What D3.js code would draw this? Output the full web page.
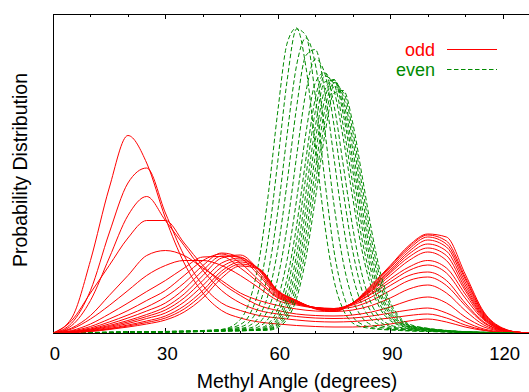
<!DOCTYPE html>
<html><head><meta charset="utf-8">
<script src="https://cdn.jsdelivr.net/npm/d3@7"></script>
<style>html,body{margin:0;padding:0;background:#fff;overflow:hidden}</style>
</head><body><svg id="c" width="529" height="392"></svg>
<script>
// Angle grids (degrees)
const oddAngles = [0,5,10,15,20,25,30,35,40,45,50,55,60,65,70,75,80,85,90,95,100,105,110,115,120,125,130];
const evenAngles = [0,10,20,30,40,45,50,52.5,55,57.5,60,62.5,65,67.5,70,72.5,75,77.5,80,82.5,85,87.5,90,92.5,95,100,105,110,120,130];

// "odd" curves (probability, x10^-3 per degree)
const odd01 = [0,3,14.5,29,39.5,34,23,14,8,4.5,3,2.2,1.8,1.5,1.3,1.2,1.2,1.4,1.8,2.4,2.8,2.2,1.2,0.5,0.1,0,0];
const odd02 = [0,2,8.5,20,30,33,24,15.5,9.5,6,4.5,3.5,3,2.6,2.3,2.2,2.3,2.6,3,3.5,3.8,3,1.6,0.6,0.1,0,0];
const odd03 = [0,1.5,6.5,15,23.5,27.3,22.5,17.5,12.5,8.5,6,4.5,3.8,3.3,3,2.9,3,3.4,4,4.6,5,4,2.2,0.8,0.2,0,0];
const odd04 = [0,2.5,8,13.5,19,22.5,22.5,18,13.5,10,7.5,5.5,4.5,3.8,3.5,3.4,3.6,4.2,5.2,6.5,7.2,6,3.2,1.2,0.3,0,0];
const odd05 = [0,1,3.5,7.5,11.5,15.5,16.5,15.5,13,10.5,8,6.5,5.5,4.8,4.4,4.3,4.6,5.5,7,8.8,9.6,8,4.5,1.6,0.4,0.05,0];
const odd06 = [0,0.8,2.8,5.5,8.5,11.5,13.5,14.5,14.5,13.5,11.5,9,6.5,5.6,5,4.8,5.2,6.5,8.5,10.5,11.2,9.5,5.5,2,0.5,0.1,0];
const odd07 = [0,0.5,1.8,3.8,6,8.3,10.5,13,15.2,15.3,13,10,7,5.8,5.1,4.9,5.6,7.2,9.5,11.5,12.2,10.5,6,2.2,0.5,0.1,0];
const odd08 = [0,0.4,1.3,2.8,4.5,6.5,8.5,11.5,14.5,15.8,14,10.5,7.2,5.9,5.1,4.9,5.8,7.8,10.2,12.5,13.6,12,7,2.6,0.6,0.1,0];
const odd09 = [0,0.3,1,2.2,3.6,5.2,7.2,10,13.5,16,15,11.5,7.4,6,5,4.8,5.8,8,10.8,13.2,14.5,13,7.8,2.8,0.6,0.1,0];
const odd10 = [0,0.25,0.8,1.8,3,4.4,6,8.8,12.5,15.4,15.2,12,7.6,6.1,5,4.8,6,8.4,11.5,14.5,16.2,14.5,8.5,3,0.7,0.1,0];
const odd11 = [0,0.2,0.7,1.5,2.5,3.7,5.2,7.8,11.5,15,15.6,12.5,7.8,6.2,5.1,4.8,6,8.6,12,15.2,17,15.5,9,3.2,0.7,0.1,0];
const odd12 = [0,0.2,0.6,1.3,2.2,3.3,4.6,7,10.5,14,15,12.6,8,6.3,5,4.7,6,8.8,12.3,15.8,17.8,16.4,9.6,3.4,0.8,0.1,0];
const odd13 = [0,0.15,0.5,1.1,1.9,2.9,4,6.2,9.5,13.2,14.6,12.8,8.2,6.4,5,4.6,6,9,12.6,16.3,18.6,17.2,10.2,3.6,0.8,0.1,0];
const odd14 = [0,0.12,0.4,0.9,1.6,2.4,3.4,5.4,8.5,12.4,14.2,12.8,8.3,6.4,4.9,4.5,6,9.2,13,16.8,19.2,17.8,10.8,3.8,0.9,0.1,0];
const odd15 = [0,0.1,0.35,0.8,1.4,2.1,3,4.8,7.8,11.8,13.8,12.8,8.4,6.5,4.9,4.4,6,9.4,13.3,17.2,19.6,18.4,11.2,4,0.9,0.1,0];
const odd16 = [0,0.1,0.3,0.7,1.2,1.8,2.6,4.2,7,11,13.4,12.8,8.5,6.5,4.8,4.3,6,9.6,13.5,17.5,19.8,19.2,11.8,4.2,1,0.1,0];

// "even" curves
const even01 = [0,0.1,0.2,0.3,0.5,0.7,2.7,6.5,14.5,28,44.4,58,61,53.2,37.6,21.8,10.5,4.6,2,1.2,0.9,0.7,0.6,0.5,0.4,0.3,0.2,0.1,0.05,0];
const even02 = [0,0.1,0.2,0.3,0.5,0.7,1.7,3.7,8.9,19.2,34.4,50.6,60.8,59.5,47.4,30.8,16.4,7.7,3.3,1.7,1.1,0.8,0.7,0.6,0.5,0.35,0.2,0.1,0.05,0];
const even03 = [0,0.1,0.2,0.3,0.45,0.65,1.2,2.3,5.5,12.4,24.4,39.8,53.5,59,53.8,40.7,25.6,14,6.7,3.1,1.6,1.1,0.85,0.7,0.55,0.4,0.25,0.12,0.05,0];
const even04 = [0,0.08,0.18,0.28,0.42,0.6,0.9,1.5,3.3,7.9,16.8,30.2,45.1,55.5,56.7,48.5,34.9,21.5,11.5,5.6,2.7,1.5,1.0,0.8,0.65,0.45,0.28,0.14,0.05,0];
const even05 = [0,0.08,0.17,0.27,0.4,0.55,0.8,1.0,2.0,4.9,11,21.4,35.3,48.2,54.8,52,41.5,28.1,16.4,8.4,4.1,2.1,1.3,0.95,0.75,0.5,0.3,0.15,0.05,0];
const even06 = [0,0.07,0.16,0.26,0.38,0.5,0.65,0.75,1.3,2.9,6.9,14.7,26.6,40,50,52.1,45.5,33.4,21.1,11.6,5.8,2.9,1.6,1.15,0.85,0.55,0.33,0.16,0.05,0];
const even07 = [0,0.06,0.14,0.24,0.36,0.48,0.55,0.6,0.9,1.9,4.8,11,21.4,34.8,46.9,52,48.5,38.8,27,16.4,9,4.6,2.5,1.5,1.0,0.6,0.35,0.18,0.05,0];
const even08 = [0,0.06,0.14,0.23,0.35,0.46,0.55,0.6,0.75,1.55,3.8,9.1,18.4,31.4,44.3,51.4,49.8,41.3,29.8,18.6,10.5,5.4,2.9,1.7,1.1,0.65,0.38,0.2,0.06,0];
const even09 = [0,0.05,0.13,0.22,0.34,0.45,0.52,0.58,0.65,1.2,3.0,7.4,15.6,28,41.2,50.2,50.6,43.6,32.5,21,12.1,6.3,3.3,1.9,1.2,0.7,0.4,0.22,0.06,0];
const even10 = [0,0.05,0.13,0.22,0.33,0.44,0.5,0.56,0.62,1.0,2.5,6.2,13.5,25,38.4,48.5,50.7,45,34.6,23.1,13.6,7.2,3.7,2.1,1.3,0.75,0.42,0.23,0.06,0];
const even11 = [0,0.05,0.12,0.21,0.32,0.43,0.48,0.54,0.6,0.85,2.0,5.1,11.5,22.3,35.5,46.7,50.6,46.3,36.7,25.1,15.2,8.1,4.2,2.3,1.4,0.8,0.45,0.24,0.06,0];
const even12 = [0,0.04,0.12,0.2,0.31,0.42,0.46,0.52,0.58,0.75,1.7,4.2,9.8,19.7,32.6,44.5,50.1,47.3,38.6,27.3,16.9,9.3,4.8,2.6,1.5,0.85,0.48,0.25,0.07,0];
const even13 = [0,0.04,0.11,0.2,0.3,0.41,0.45,0.5,0.56,0.65,1.4,3.5,8.3,17.2,29.7,42.1,49.3,48.1,40.4,29.4,18.7,10.5,5.5,2.9,1.6,0.9,0.5,0.26,0.07,0];
const even14 = [0,0.04,0.11,0.19,0.29,0.4,0.44,0.48,0.52,0.55,1.1,2.8,6.9,15,26.8,39.5,48,48.5,42,31.4,20.6,11.7,6.2,3.2,1.8,0.95,0.52,0.27,0.07,0];

const xTickValues = [0,10,20,30,40,50,60,70,80,90,100,110,120,130];
const xTickLabels = ["0","30","60","90","120"];
const legendLabels = ["odd","even"];

const oddSeries = [odd01,odd02,odd03,odd04,odd05,odd06,odd07,odd08,odd09,odd10,odd11,odd12,odd13,odd14,odd15,odd16];
const evenSeries = [even01,even02,even03,even04,even05,even06,even07,even08,even09,even10,even11,even12,even13,even14];

const RED = "#ff0000", GREEN = "#008a00";
const FONT = "'Liberation Sans', Arial, Helvetica, sans-serif";

const svg = d3.select("#c");
const plotLeft = 53, plotTop = 14, plotBottom = 333;
const x = d3.scaleLinear().domain([0,130]).range([plotLeft, plotLeft + 130*3.747]);
const y = d3.scaleLinear().domain([0,63.8]).range([plotBottom, plotTop]);

svg.append("defs").append("clipPath").attr("id","clip")
  .append("rect").attr("x",plotLeft).attr("y",plotTop).attr("width",x(130)-plotLeft).attr("height",plotBottom-plotTop);

// border
const g = svg.append("g").attr("stroke","#000").attr("stroke-width",1).attr("shape-rendering","crispEdges");
g.append("line").attr("x1",plotLeft).attr("x2",x(130)).attr("y1",plotTop+0.5).attr("y2",plotTop+0.5);
g.append("line").attr("x1",plotLeft).attr("x2",x(130)).attr("y1",plotBottom+0.5).attr("y2",plotBottom+0.5);
g.append("line").attr("x1",plotLeft+0.5).attr("x2",plotLeft+0.5).attr("y1",plotTop).attr("y2",plotBottom+0.5);
xTickValues.forEach(t => {
  const major = t % 30 === 0;
  const len = major ? 5 : 2.5;
  const px = Math.round(x(t)) + 0.5;
  g.append("line").attr("x1",px).attr("x2",px).attr("y1",plotBottom).attr("y2",plotBottom-len);
  g.append("line").attr("x1",px).attr("x2",px).attr("y1",plotTop).attr("y2",plotTop+len);
});
svg.append("g").selectAll("text").data(xTickLabels).join("text")
  .attr("x", d => x(+d) + 2).attr("y", 360)
  .attr("text-anchor","middle").attr("font-family",FONT).attr("font-size",18.5)
  .attr("fill","#000").text(d => d);

// curves
const line = d3.line().x(d => x(d[0])).y(d => y(d[1])).curve(d3.curveMonotoneX);
const cg = svg.append("g").attr("clip-path","url(#clip)").attr("fill","none");
const n = Math.max(oddSeries.length, evenSeries.length);
for (let i = 0; i < n; i++) {
  if (oddSeries[i]) cg.append("path")
    .attr("d", line(oddAngles.map((a,k) => [a, oddSeries[i][k]])))
    .attr("stroke", RED).attr("stroke-width", 1);
  if (evenSeries[i]) cg.append("path")
    .attr("d", line(evenAngles.map((a,k) => [a, evenSeries[i][k]])))
    .attr("stroke", GREEN).attr("stroke-width", 1).attr("stroke-dasharray","4.5,2.5");
}

// axis labels
svg.append("text").attr("x",297).attr("y",388).attr("text-anchor","middle")
  .attr("font-family",FONT).attr("font-size",19.5).attr("fill","#000").text("Methyl Angle (degrees)");
svg.append("text").attr("transform","translate(27,170) rotate(-90)").attr("text-anchor","middle")
  .attr("font-family",FONT).attr("font-size",19.5).attr("fill","#000").text("Probability Distribution");

// legend
const lg = svg.append("g");
lg.append("text").attr("x",435).attr("y",55.5).attr("text-anchor","end").attr("font-family",FONT)
  .attr("font-size",18).attr("fill",RED).text(legendLabels[0]);
lg.append("line").attr("x1",447).attr("x2",497).attr("y1",49.5).attr("y2",49.5).attr("stroke",RED).attr("stroke-width",1);
lg.append("text").attr("x",435).attr("y",76).attr("text-anchor","end").attr("font-family",FONT)
  .attr("font-size",18).attr("fill",GREEN).text(legendLabels[1]);
lg.append("line").attr("x1",447).attr("x2",497).attr("y1",69.5).attr("y2",69.5).attr("stroke",GREEN).attr("stroke-width",1).attr("stroke-dasharray","4.5,2.5");
</script></body></html>
